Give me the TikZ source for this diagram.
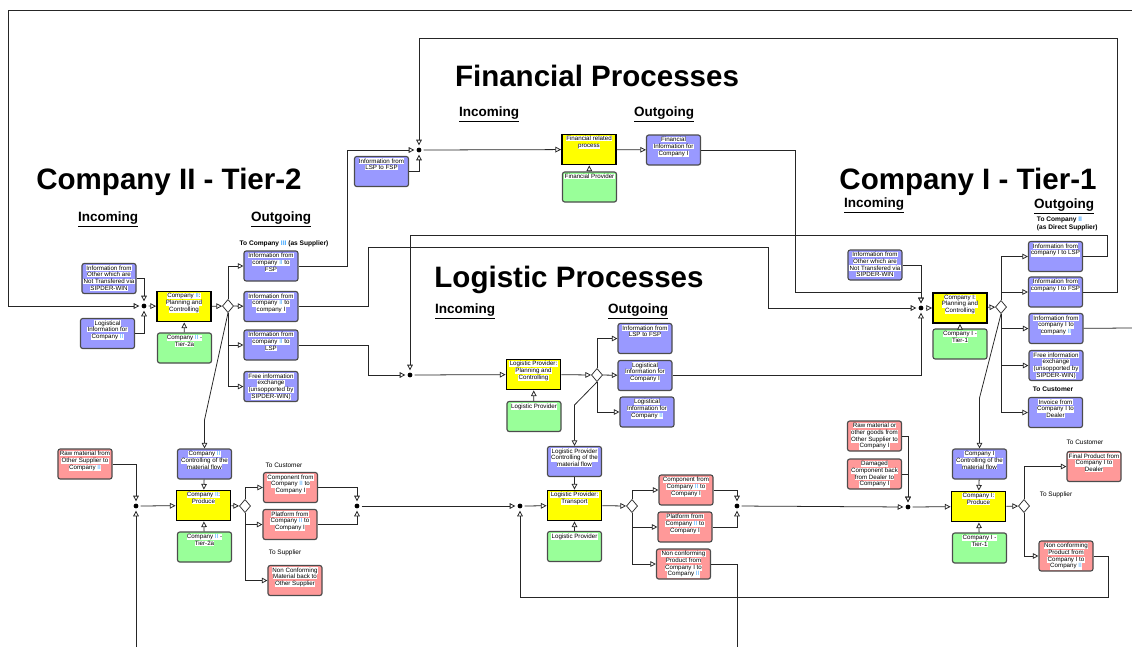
\documentclass[tikz,border=0pt]{standalone}
\usepackage{fontspec}
\setmainfont{Liberation Sans}
\usetikzlibrary{arrows.meta,shapes.geometric}
\definecolor{procyellow}{RGB}{255,255,0}
\definecolor{resgreen}{RGB}{153,255,153}
\definecolor{infoblue}{RGB}{153,153,255}
\definecolor{matred}{RGB}{255,153,153}
\definecolor{romblue}{RGB}{70,170,255}
\newcommand\hl[1]{{\setlength{\fboxsep}{0.2pt}\colorbox{white}{#1}}}
\newcommand\two{\textcolor{romblue}{II}}
\newcommand\boxfont{\fontsize{4.4}{4.8}\selectfont}
\tikzset{
  box/.style={rectangle, rounded corners=1.6pt, draw=black!70, line width=0.8pt,
    minimum width=1.35cm, minimum height=0.75cm, inner sep=0pt},
  procbox/.style={rectangle, draw=black, line width=1.3pt, fill=procyellow,
    minimum width=1.35cm, minimum height=0.75cm, inner sep=0pt},
  resbox/.style={box, fill=resgreen},
  infobox/.style={box, fill=infoblue},
  matbox/.style={box, fill=matred},
  boxlabel/.style={anchor=north, align=center, font=\boxfont, inner sep=0pt, yshift=-1.6pt},
  txt/.style={label={[boxlabel]north:{#1}}},
  jn/.style={circle, fill=black, inner sep=0pt, minimum size=3.4pt, outer sep=1.6pt},
  split/.style={diamond, draw=black!80, fill=white, line width=0.55pt, inner sep=0pt,
    minimum width=0.28cm, minimum height=0.33cm},
  flow/.style={draw=black!85, line width=0.55pt, -{Triangle[fill=white, length=4pt, width=4pt]}},
  wire/.style={draw=black!85, line width=0.55pt},
  title/.style={font=\fontsize{21}{24}\selectfont\bfseries},
  head/.style={font=\fontsize{9.6}{11}\selectfont\bfseries},
  note/.style={font=\fontsize{4.6}{5.2}\selectfont},
  bnote/.style={font=\fontsize{4.7}{5.4}\selectfont\bfseries, align=left},
}
\begin{document}
\begin{tikzpicture}[x=0.025cm, y=-0.025cm]
  \useasboundingbox (0,0) rectangle (1132,647);
  \coordinate (eTop) at (1132,10);
  \coordinate (eBot2) at (136,647);
  \coordinate (eBotL) at (737,647);
  \coordinate (eRight) at (1132,328);

  % headings
  \node[title] (t2) at (169,182) {Company II - Tier-2};
  \node[title] (t1) at (968,182) {Company I - Tier-1};
  \node[title] (tf) at (597,76) {Financial Processes};
  \node[title] (tl) at (569,280) {Logistic Processes};
  \node[head] (t2in) at (108,219) {\underline{Incoming}};
  \node[head] (t2out) at (281,219) {\underline{Outgoing}};
  \node[head] (tfin) at (489,114) {\underline{Incoming}};
  \node[head] (tfout) at (664,114) {\underline{Outgoing}};
  \node[head] (tlin) at (465,311) {\underline{Incoming}};
  \node[head] (tlout) at (638,311) {\underline{Outgoing}};
  \node[head] (t1in) at (874,205) {\underline{Incoming}};
  \node[head] (t1out) at (1064,206) {\underline{Outgoing}};
  \node[bnote] (n2sup) at (284,244) {To Company \textcolor{romblue}{III} (as Supplier)};
  \node[note] (n2cus) at (284,465) {To Customer};
  \node[note] (n2sup2) at (285,553) {To Supplier};
  \node[bnote, anchor=west] (n1sup) at (1032,224) {To Company \two\\(as Direct Supplier)};
  \node[bnote] (n1cus) at (1053,389) {To Customer};
  \node[note] (n1cus2) at (1085,442) {To Customer};
  \node[note] (n1sup2) at (1056,495) {To Supplier};

  % Company II - planning
  \node[procbox, txt={\hl{Company \two:}\\\hl{Planning and}\\\hl{Controlling}}] (c2plan) at (184,306.5) {};
  \node[resbox, txt={\hl{Company \two{} -}\\\hl{Tier-2a}}] (c2tier) at (184.5,348) {};
  \node[infobox, txt={\hl{Information from}\\\hl{Other which are}\\\hl{Not Transfered via}\\\hl{SIPDER-WIN}}] (c2other) at (109,278.5) {};
  \node[infobox, txt={\hl{Logistical}\\\hl{Information for}\\\hl{Company \two}}] (c2logi) at (107.5,333.5) {};
  \node[jn] (j2plan) at (144,306) {};
  \node[split] (d2plan) at (228,306) {};
  \node[infobox, txt={\hl{Information from}\\\hl{company \two{} to}\\\hl{FSP}}] (c2o1) at (271,266) {};
  \node[infobox, txt={\hl{Information from}\\\hl{company \two{} to}\\\hl{company I}}] (c2o2) at (271,306.5) {};
  \node[infobox, txt={\hl{Information from}\\\hl{company \two{} to}\\\hl{LSP}}] (c2o3) at (271,345) {};
  \node[infobox, txt={\hl{Free information}\\\hl{exchange}\\\hl{(unsopported by}\\\hl{SIPDER-WIN)}}] (c2o4) at (271,386.5) {};

  % Company II - material
  \node[infobox, txt={\hl{Company \two}\\\hl{Controlling of the}\\\hl{material flow}}] (c2ctrl) at (204.5,464) {};
  \node[procbox, txt={\hl{Company \two:}\\\hl{Produce}}] (c2prod) at (203.5,505.5) {};
  \node[resbox, txt={\hl{Company \two{} -}\\\hl{Tier-2a}}] (c2tier2) at (204.5,547) {};
  \node[matbox, txt={\hl{Raw material from}\\\hl{Other Supplier to}\\\hl{Company \two}}] (c2raw) at (85,464) {};
  \node[jn] (j2prod) at (136,506) {};
  \node[split] (d2prod) at (245,506) {};
  \node[matbox, txt={\hl{Component from}\\\hl{Company \two{} to}\\\hl{Company I}}] (c2p1) at (290.5,487.5) {};
  \node[matbox, txt={\hl{Platform from}\\\hl{Company \two{} to}\\\hl{Company I}}] (c2p2) at (290,524.5) {};
  \node[matbox, txt={\hl{Non Conforming}\\\hl{Material back to}\\\hl{Other Supplier}}] (c2p3) at (295,580.5) {};
  \node[jn] (j2out) at (357,506) {};

  % financial
  \node[jn] (jfin) at (419,150) {};
  \node[procbox, txt={\hl{Financial related}\\\hl{process}}] (fin) at (589,149.5) {};
  \node[resbox, txt={\hl{Financial Provider}}] (fintier) at (589.5,187) {};
  \node[infobox, txt={\hl{Financial}\\\hl{Information for}\\\hl{Company I}}] (finout) at (673.5,150) {};
  \node[infobox, txt={\hl{Information from}\\\hl{LSP to FSP}}] (finlsp) at (381.5,171.5) {};

  % logistic - planning
  \node[jn] (jlplan) at (410,375) {};
  \node[procbox, txt={\hl{Logistic Provider:}\\\hl{Planning and}\\\hl{Controlling}}] (lplan) at (533.5,374.5) {};
  \node[resbox, txt={\hl{Logistic Provider}}] (ltier) at (534,416.5) {};
  \node[split] (dlplan) at (597,375) {};
  \node[infobox, txt={\hl{Information from}\\\hl{LSP to FSP}}] (lo1) at (645,338.5) {};
  \node[infobox, txt={\hl{Logistical}\\\hl{Information for}\\\hl{Company I}}] (lo2) at (645,375.5) {};
  \node[infobox, txt={\hl{Logistical}\\\hl{Information for}\\\hl{Company \two}}] (lo3) at (647,412) {};

  % logistic - transport
  \node[infobox, txt={\hl{Logistic Provider}\\\hl{Controlling of the}\\\hl{material flow}}] (lctrl) at (574.5,461.5) {};
  \node[procbox, txt={\hl{Logistic Provider:}\\\hl{Transport}}] (ltrans) at (574.5,505.5) {};
  \node[resbox, txt={\hl{Logistic Provider}}] (ltier2) at (574.5,546.5) {};
  \node[jn] (jltrans) at (520,506) {};
  \node[split] (dltrans) at (632,506) {};
  \node[matbox, txt={\hl{Component from}\\\hl{Company \two{} to}\\\hl{Company I}}] (lt1) at (686,490) {};
  \node[matbox, txt={\hl{Platform from}\\\hl{Company \two{} to}\\\hl{Company I}}] (lt2) at (685,527) {};
  \node[matbox, txt={\hl{Non conforming}\\\hl{Product from}\\\hl{Company I to}\\\hl{Company \two}}] (lt3) at (683.5,564) {};
  \node[jn] (jlout) at (737,506) {};

  % Company I - planning
  \node[jn] (jplan1) at (921,308) {};
  \node[procbox, txt={\hl{Company I:}\\\hl{Planning and}\\\hl{Controlling}}] (c1plan) at (960,308) {};
  \node[resbox, txt={\hl{Company I -}\\\hl{Tier-1}}] (c1tier) at (960,344) {};
  \node[infobox, txt={\hl{Information from}\\\hl{Other which are}\\\hl{Not Transfered via}\\\hl{SIPDER-WIN}}] (c1other) at (875,265) {};
  \node[split] (d1plan) at (1001,307) {};
  \node[infobox, txt={\hl{Information from}\\\hl{company I to LSP}}] (c1o1) at (1055.5,256.5) {};
  \node[infobox, txt={\hl{Information from}\\\hl{company I to FSP}}] (c1o2) at (1055.5,292) {};
  \node[infobox, txt={\hl{Information from}\\\hl{company I to}\\\hl{company \two}}] (c1o3) at (1056,328.5) {};
  \node[infobox, txt={\hl{Free information}\\\hl{exchange}\\\hl{(unsopported by}\\\hl{SIPDER-WIN)}}] (c1o4) at (1056,365.5) {};
  \node[infobox, txt={\hl{Invoice from}\\\hl{Company I to}\\\hl{Dealer}}] (c1o5) at (1055.5,412.5) {};

  % Company I - material
  \node[infobox, txt={\hl{Company I}\\\hl{Controlling of the}\\\hl{material flow}}] (c1ctrl) at (979.5,464) {};
  \node[procbox, txt={\hl{Company I:}\\\hl{Produce}}] (c1prod) at (978.5,506.5) {};
  \node[resbox, txt={\hl{Company I -}\\\hl{Tier-1}}] (c1tier2) at (979.5,548) {};
  \node[matbox, txt={\hl{Raw material or}\\\hl{other goods from}\\\hl{Other Supplier to}\\\hl{Company I}}] (c1raw) at (874.5,436) {};
  \node[matbox, txt={\hl{Damaged}\\\hl{Component back}\\\hl{from Dealer to}\\\hl{Company I}}] (c1dam) at (874.5,474) {};
  \node[jn] (jprod1) at (908,507) {};
  \node[split] (dprod1) at (1024,506) {};
  \node[matbox, txt={\hl{Final Product from}\\\hl{Company I to}\\\hl{Dealer}}] (c1p1) at (1094,466.5) {};
  \node[matbox, txt={\hl{Non conforming}\\\hl{Product from}\\\hl{Company I to}\\\hl{Company \two}}] (c1p2) at (1066,556) {};

  % Company II connectors
  \draw[flow] (eTop) -| (8,306) -- (j2plan);
  \draw[flow] (c2other) -| (j2plan);
  \draw[flow] (c2logi) -| (j2plan);
  \draw[flow] (j2plan) -- (c2plan);
  \draw[flow] (c2tier) -- (c2plan);
  \draw[flow] (c2plan) -- (d2plan);
  \draw[flow] (d2plan.north) |- (c2o1);
  \draw[flow] (d2plan) -- (c2o2);
  \draw[flow] (d2plan.south) |- (c2o3);
  \draw[flow] (d2plan.south) |- (c2o4);
  \draw[flow] (d2plan.south) -- (204.5,420) -- (c2ctrl);
  \draw[flow] (c2o1) -| (347,150) -- (jfin);
  \draw[flow] (c2o2) -| (368,247) -| (768,308) -- (jplan1);
  \draw[flow] (c2o3) -| (368,375) -- (jlplan);
  \draw[flow] (c2raw) -| (j2prod);
  \draw[flow] (eBot2) -- (j2prod);
  \draw[flow] (j2prod) -- (c2prod);
  \draw[flow] (c2ctrl) -- (c2prod);
  \draw[flow] (c2tier2) -- (c2prod);
  \draw[flow] (c2prod) -- (d2prod);
  \draw[flow] (d2prod.north) |- (c2p1);
  \draw[flow] (d2prod.south) |- (c2p2);
  \draw[flow] (d2prod.south) |- (c2p3);
  \draw[flow] (c2p1) -| (j2out);
  \draw[flow] (c2p2) -| (j2out);
  \draw[flow] (j2out) -- (jltrans);

  % financial connectors
  \draw[flow] (c1o2) -| (1117,38) -| (jfin);
  \draw[flow] (finlsp) -| (jfin);
  \draw[flow] (jfin) -- (fin);
  \draw[flow] (fintier) -- (fin);
  \draw[flow] (fin) -- (finout);
  \draw[flow] (finout) -| (795,292) -| (jplan1);

  % logistic connectors
  \draw[flow] (c1o1) -| (1107,235) -| (jlplan);
  \draw[flow] (jlplan) -- (lplan);
  \draw[flow] (ltier) -- (lplan);
  \draw[flow] (lplan) -- (dlplan);
  \draw[flow] (dlplan.north) |- (lo1);
  \draw[flow] (dlplan) -- (lo2);
  \draw[flow] (dlplan.south) |- (lo3);
  \draw[flow] (lo2) -| (jplan1);
  \draw[flow] (dlplan.south) -- (574.5,405) -- (lctrl);
  \draw[flow] (lctrl) -- (ltrans);
  \draw[flow] (ltier2) -- (ltrans);
  \draw[flow] (jltrans) -- (ltrans);
  \draw[flow] (ltrans) -- (dltrans);
  \draw[flow] (dltrans.north) |- (lt1);
  \draw[flow] (dltrans.south) |- (lt2);
  \draw[flow] (dltrans.south) |- (lt3);
  \draw[flow] (lt1) -| (jlout);
  \draw[flow] (lt2) -| (jlout);
  \draw[wire] (lt3) -| (eBotL);
  \draw[flow] (jlout) -- (jprod1);
  \draw[flow] (c1p2) -| (1108,597) -| (jltrans);

  % Company I connectors
  \draw[flow] (c1other) -| (jplan1);
  \draw[flow] (jplan1) -- (c1plan);
  \draw[flow] (c1tier) -- (c1plan);
  \draw[flow] (c1plan) -- (d1plan);
  \draw[flow] (d1plan.north) |- (c1o1);
  \draw[flow] (d1plan.north) |- (c1o2);
  \draw[flow] (d1plan.south) |- (c1o3);
  \draw[flow] (d1plan.south) |- (c1o4);
  \draw[flow] (d1plan.south) |- (c1o5);
  \draw[wire] (c1o3) -- (eRight);
  \draw[flow] (d1plan.south) -- (979.5,398) -- (c1ctrl);
  \draw[flow] (c1raw) -| (jprod1);
  \draw[flow] (c1dam) -| (jprod1);
  \draw[flow] (jprod1) -- (c1prod);
  \draw[flow] (c1ctrl) -- (c1prod);
  \draw[flow] (c1tier2) -- (c1prod);
  \draw[flow] (c1prod) -- (dprod1);
  \draw[flow] (dprod1.north) |- (c1p1);
  \draw[flow] (dprod1.south) |- (c1p2);
\end{tikzpicture}
\end{document}
